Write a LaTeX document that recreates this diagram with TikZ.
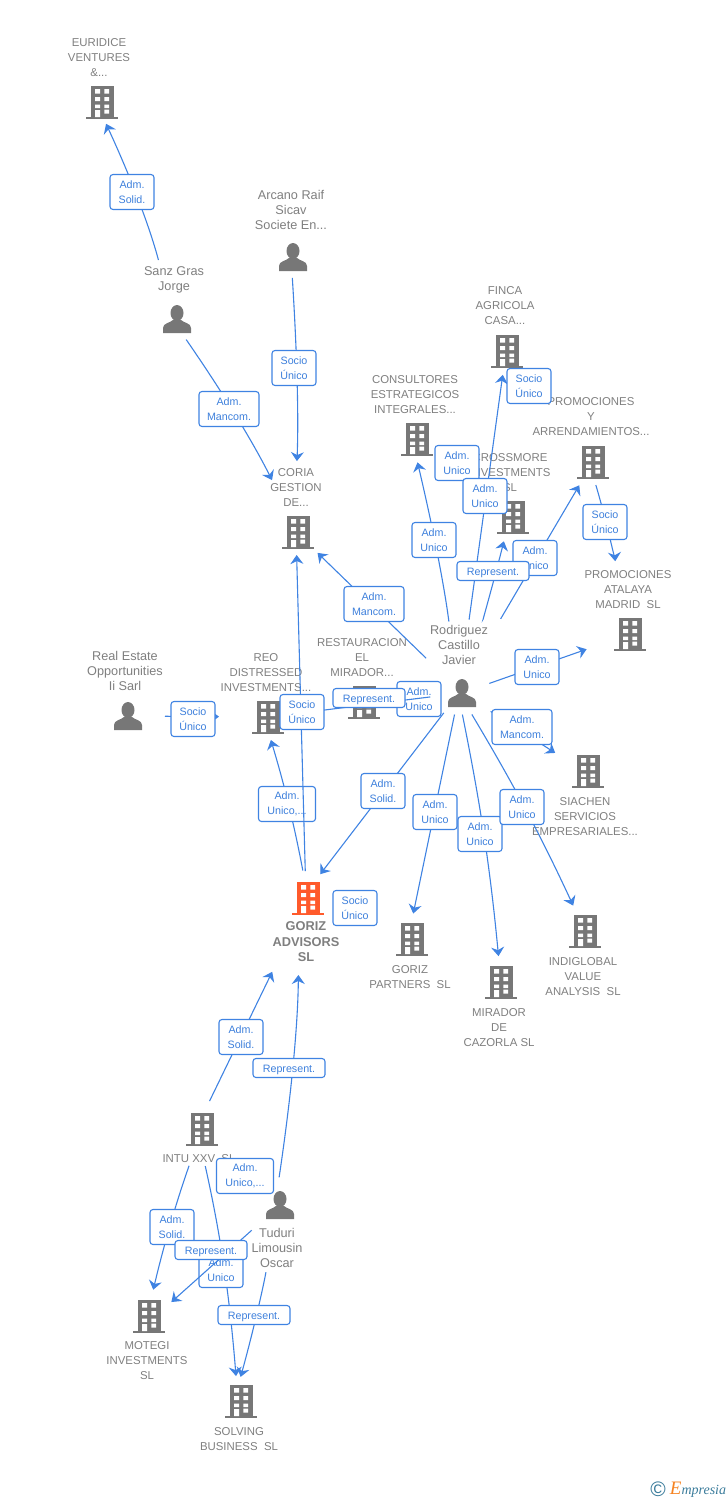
\documentclass[tikz,border=0pt]{standalone}
\usepackage{fontspec}
\setmainfont{Liberation Sans}
\newfontfamily\logofont{Liberation Serif}
\usepackage{xcolor}
\usetikzlibrary{arrows.meta, positioning, calc}

\definecolor{linkblue}{HTML}{3F83E2}
\definecolor{tagblue}{HTML}{3E80DC}
\definecolor{icongray}{HTML}{777777}
\definecolor{textgray}{HTML}{7F7F7F}
\definecolor{mainorange}{HTML}{FF5A2B}
\definecolor{logoblue}{HTML}{3B7C9B}
\definecolor{logoorange}{HTML}{F58220}

\newcommand{\buildingicon}[1]{
    \begin{scope}[shift={(path picture bounding box.center)}]
        \fill[#1] (-11.5,-16.5) rectangle (11.5,15);
        \fill[#1] (-16,14.5) rectangle (16,17);
        \fill[white] (-7,-13) rectangle (-2,-8.5) (2.3,-13) rectangle (7,-8.5);
        \fill[white] (-7,-5) rectangle (-2,-1) (2.3,-5) rectangle (7,-1);
        \fill[white] (-7,2.5) rectangle (-2,6) (2.3,2.5) rectangle (7,6);
        \fill[white] (-7,8) rectangle (-2,15) (2.3,7.5) rectangle (7,11.5);
    \end{scope}
}
\newcommand{\personicon}{
    \begin{scope}[shift={(path picture bounding box.center)}]
        \fill[icongray] (0,-6) ellipse (6.5 and 8);
        \fill[icongray] (-14,14) -- (-14,9) .. controls (-14,4) and (-7,4) .. (-4,1) -- (4,1) .. controls (7,4) and (14,4) .. (14,9) -- (14,14) -- cycle;
    \end{scope}
}

\tikzset{
    building/.style={minimum size=36pt, inner sep=0pt, path picture={\buildingicon{icongray}}},
    mainbuilding/.style={minimum size=36pt, inner sep=0pt, path picture={\buildingicon{mainorange}}},
    person/.style={minimum size=36pt, inner sep=0pt, path picture={\personicon}},
    caption/.style={text=textgray, align=center, inner sep=0pt, font=\fontsize{11.4}{15}\selectfont},
    namecap/.style={text=textgray, align=center, inner sep=0pt, font=\fontsize{12.7}{15}\selectfont},
    tag/.style={draw=linkblue, fill=white, line width=1.1pt, rounded corners=3pt, text=tagblue, align=center, inner sep=0pt, minimum width=44pt, minimum height=35pt, font=\fontsize{10.7}{15}\selectfont},
    wide/.style={tag, minimum width=60pt},
    mid/.style={tag, minimum width=57pt},
    flat/.style={tag, minimum width=72pt, minimum height=19pt, text height=8pt, text depth=0pt},
    link/.style={draw=linkblue, line width=1.1pt, -{Stealth[length=9pt, width=13pt, inset=3pt]}}
}

\begin{document}
\begin{tikzpicture}[x=1pt, y=-1pt]
    \useasboundingbox (0,0) rectangle (728,1500);

    \node[building] (euridice) at (102,102) {};
    \node[building] (coria) at (298,532) {};
    \node[building] (finca) at (507,351) {};
    \node[building] (consultores) at (417,439) {};
    \node[building] (promociones) at (593,462) {};
    \node[building] (crossmore) at (513,517) {};
    \node[building] (atalaya) at (630,634) {};
    \node[building] (restauracion) at (364,702) {};
    \node[building] (reo) at (268,717) {};
    \node[building] (siachen) at (588,771) {};
    \node[mainbuilding] (goriz) at (308,898) {};
    \node[building] (partners) at (412,939) {};
    \node[building] (indiglobal) at (585,931) {};
    \node[building] (mirador) at (501,982) {};
    \node[building] (intu) at (202,1129) {};
    \node[building] (motegi) at (149,1316) {};
    \node[building] (solving) at (241,1401) {};

    \node[person] (arcano) at (293,257) {};
    \node[person] (sanz) at (177,319) {};
    \node[person] (rodriguez) at (462,693) {};
    \node[person] (realestate) at (128,716) {};
    \node[person] (tuduri) at (280,1205) {};

    \node[caption] (euridicetxt) at (99,58) {EURIDICE\\VENTURES\\\&...};
    \node[caption] (coriatxt) at (296,488) {CORIA\\GESTION\\DE...};
    \node[caption] (fincatxt) at (505,306) {FINCA\\AGRICOLA\\CASA...};
    \node[caption] (consultorestxt) at (415,395) {CONSULTORES\\ESTRATEGICOS\\INTEGRALES...};
    \node[caption] (promocionestxt) at (591,417) {PROMOCIONES\\Y\\ARRENDAMIENTOS...};
    \node[caption] (crossmoretxt) at (510,473) {CROSSMORE\\INVESTMENTS\\SL};
    \node[caption] (atalayatxt) at (628,590) {PROMOCIONES\\ATALAYA\\MADRID\ \ SL};
    \node[caption] (restauraciontxt) at (362,658) {RESTAURACION\\EL\\MIRADOR...};
    \node[caption] (reotxt) at (266,673) {REO\\DISTRESSED\\INVESTMENTS...};
    \node[caption] (siachentxt) at (585,817) {SIACHEN\\SERVICIOS\\EMPRESARIALES...};
    \node[caption, font=\fontsize{12.8}{15.5}\selectfont\bfseries] (goriztxt) at (306,942) {GORIZ\\ADVISORS\\SL};
    \node[caption] (partnerstxt) at (410,977.5) {GORIZ\\PARTNERS\ \ SL};
    \node[caption] (indiglobaltxt) at (583,977) {INDIGLOBAL\\VALUE\\ANALYSIS\ \ SL};
    \node[caption] (miradortxt) at (499,1028) {MIRADOR\\DE\\CAZORLA SL};
    \node[caption] (intutxt) at (199,1159) {INTU XXV\ \ SL};
    \node[caption] (motegitxt) at (147,1361) {MOTEGI\\INVESTMENTS\\SL};
    \node[caption] (solvingtxt) at (239,1439.5) {SOLVING\\BUSINESS\ \ SL};

    \node[namecap] (arcanotxt) at (291,210) {Arcano Raif\\Sicav\\Societe En...};
    \node[namecap] (sanztxt) at (174,280) {Sanz Gras\\Jorge};
    \node[namecap] (rodrigueztxt) at (459,645) {Rodriguez\\Castillo\\Javier};
    \node[namecap] (realestatetxt) at (125,671) {Real Estate\\Opportunities\\Ii Sarl};
    \node[namecap] (tuduritxt) at (277,1248) {Tuduri\\Limousin\\Oscar};

    \draw[link, shorten <=61pt, shorten >=24pt] ([xshift=-3pt]sanz.center) to[bend right=5] ([xshift=-6pt]euridice.center);
    \node[tag] (tagsolid) at (132,192) {Adm.\\Solid.};

    \draw[link, shorten <=25pt, shorten >=58pt] ([xshift=-5pt]sanz.center) to[bend left=4] (coria.center);
    \node[wide] (tagmancom) at (229,409) {Adm.\\Mancom.};

    \draw[link, shorten <=21pt, shorten >=71pt] ([xshift=-2pt]arcano.center) to[bend left=3] ([xshift=-4pt]coria.center);
    \node[tag] (tagarcano) at (294,368) {Socio\\Único};

    \draw[link, shorten <=50pt, shorten >=30pt] (rodriguez.center) to ([xshift=-2pt]coria.center);
    \node[wide] (tagcoria) at (374,604) {Adm.\\Mancom.};

    \draw[link, shorten <=72pt, shorten >=24pt] ([xshift=-4pt]rodriguez.center) to[bend right=3] ([xshift=-5pt]consultores.center);
    \node[tag] (tagconsultores) at (434,540) {Adm.\\Unico};

    \node[tag] (tagfree) at (457,463) {Adm.\\Unico};

    \draw[link, shorten <=74pt, shorten >=24pt] ([xshift=-3pt]rodriguez.center) to ([xshift=-1pt]finca.center);
    \node[tag] (tagfinca) at (529,386) {Socio\\Único};
    \node[tag] (tagfincb) at (485,496) {Adm.\\Unico};

    \draw[link, shorten <=78pt, shorten >=25pt] ([xshift=-3pt]rodriguez.center) to[bend right=2] ([xshift=-3pt]crossmore.center);

    \draw[link, shorten <=86pt, shorten >=27pt] ([xshift=-5pt]rodriguez.center) to (promociones.center);
    \node[tag] (tagpromo) at (535,558) {Adm.\\Unico};
    \node[flat] (tagcross) at (493,571) {Represent.};

    \draw[link, shorten <=24pt, shorten >=73pt] ([xshift=-4pt]promociones.center) to[bend left=6] ([xshift=-9pt]atalaya.center);
    \node[tag] (tagatalaya) at (605,522) {Socio\\Único};

    \draw[link, shorten <=29pt, shorten >=46pt] (rodriguez.center) to (atalaya.center);
    \node[tag] (tagrodat) at (537,667) {Adm.\\Unico};

    \draw[link, shorten <=34pt, shorten >=39pt] (rodriguez.center) to ([yshift=-3pt]siachen.center);
    \node[wide] (tagsiachen) at (522,727) {Adm.\\Mancom.};

    \draw[link, shorten <=30pt, shorten >=30pt] (rodriguez.center) to (restauracion.center);
    \node[tag] (tagrest) at (419,699) {Adm.\\Unico};

    \draw[link, shorten <=32pt, shorten >=25pt] (rodriguez.center) to (reo.center);
    \node[flat] (tagreprest) at (369,698) {Represent.};

    \draw[link, shorten <=28pt, shorten >=24pt] (goriz.center) to[bend right=3] ([xshift=-4pt]reo.center);
    \node[mid] (taggorreo) at (287,804) {Adm.\\Unico,...};

    \draw[link, shorten <=27pt, shorten >=23pt] ([xshift=-2pt]goriz.center) to ([xshift=-2pt]coria.center);
    \node[tag] (taggorcoria) at (302,712) {Socio\\Único};

    \draw[link, shorten <=37pt, shorten >=49pt] (realestate.center) to (reo.center);
    \node[tag] (tagreal) at (193,719) {Socio\\Único};

    \draw[link, shorten <=25pt, shorten >=30pt] ([xshift=-3pt]rodriguez.center) to ([xshift=-6pt]goriz.center);
    \node[tag] (taggoriz) at (383,791) {Adm.\\Solid.};

    \draw[link, shorten <=22pt, shorten >=26pt] ([xshift=-3pt]rodriguez.center) to ([xshift=-4pt]partners.center);
    \node[tag] (tagpartners) at (435,812) {Adm.\\Unico};

    \draw[link, shorten <=22pt, shorten >=26pt] ([xshift=-4pt]rodriguez.center) to[bend left=3] (mirador.center);
    \node[tag] (tagmirador) at (480,834) {Adm.\\Unico};

    \draw[link, shorten <=25pt, shorten >=28pt] ([xshift=-3pt]rodriguez.center) to[bend left=3] (indiglobal.center);
    \node[tag] (tagindi) at (522,807) {Adm.\\Unico};

    \node[tag] (tagfreeb) at (355,908) {Socio\\Único};

    \draw[link, shorten <=31pt, shorten >=82pt] ([xshift=-6pt]intu.center) to (goriz.center);
    \node[tag] (tagintu) at (241,1037) {Adm.\\Solid.};

    \draw[link, shorten <=28pt, shorten >=77pt] ([xshift=-5pt]tuduri.center) to[bend right=4] ([xshift=-9pt]goriz.center);
    \node[flat] (tagtuduri) at (289,1068) {Represent.};

    \node[mid] (tagfreec) at (245,1176) {Adm.\\Unico,...};

    \draw[link, shorten <=39pt, shorten >=27pt] (intu.center) to[bend right=3] ([xshift=-2pt]motegi.center);
    \node[tag] (tagmotegi) at (172,1227) {Adm.\\Solid.};

    \draw[link, shorten <=38pt, shorten >=25pt] ([xshift=-5pt]intu.center) to[bend left=4] ([xshift=-3pt]solving.center);
    \node[tag] (tagsolving) at (221,1270) {Adm.\\Unico};

    \draw[link, shorten <=38pt, shorten >=30pt] (tuduri.center) to ([yshift=-6pt]motegi.center);
    \node[flat] (tagtumo) at (211,1250) {Represent.};

    \draw[link, shorten <=68pt, shorten >=25pt] ([xshift=-3pt]tuduri.center) to[bend left=3] ([xshift=-7pt]solving.center);
    \node[flat] (tagtuso) at (254,1315) {Represent.};

    \node[inner sep=0pt, text=logoblue, font=\fontsize{21}{21}\selectfont] (logomark) at (658,1489) {©};
    \node[inner sep=0pt, text=logoblue, font=\logofont\itshape\fontsize{14}{16}\selectfont] (logotxt) at (698,1490) {\textcolor{logoorange}{\fontsize{19}{16}\selectfont E}mpresia};
\end{tikzpicture}
\end{document}
